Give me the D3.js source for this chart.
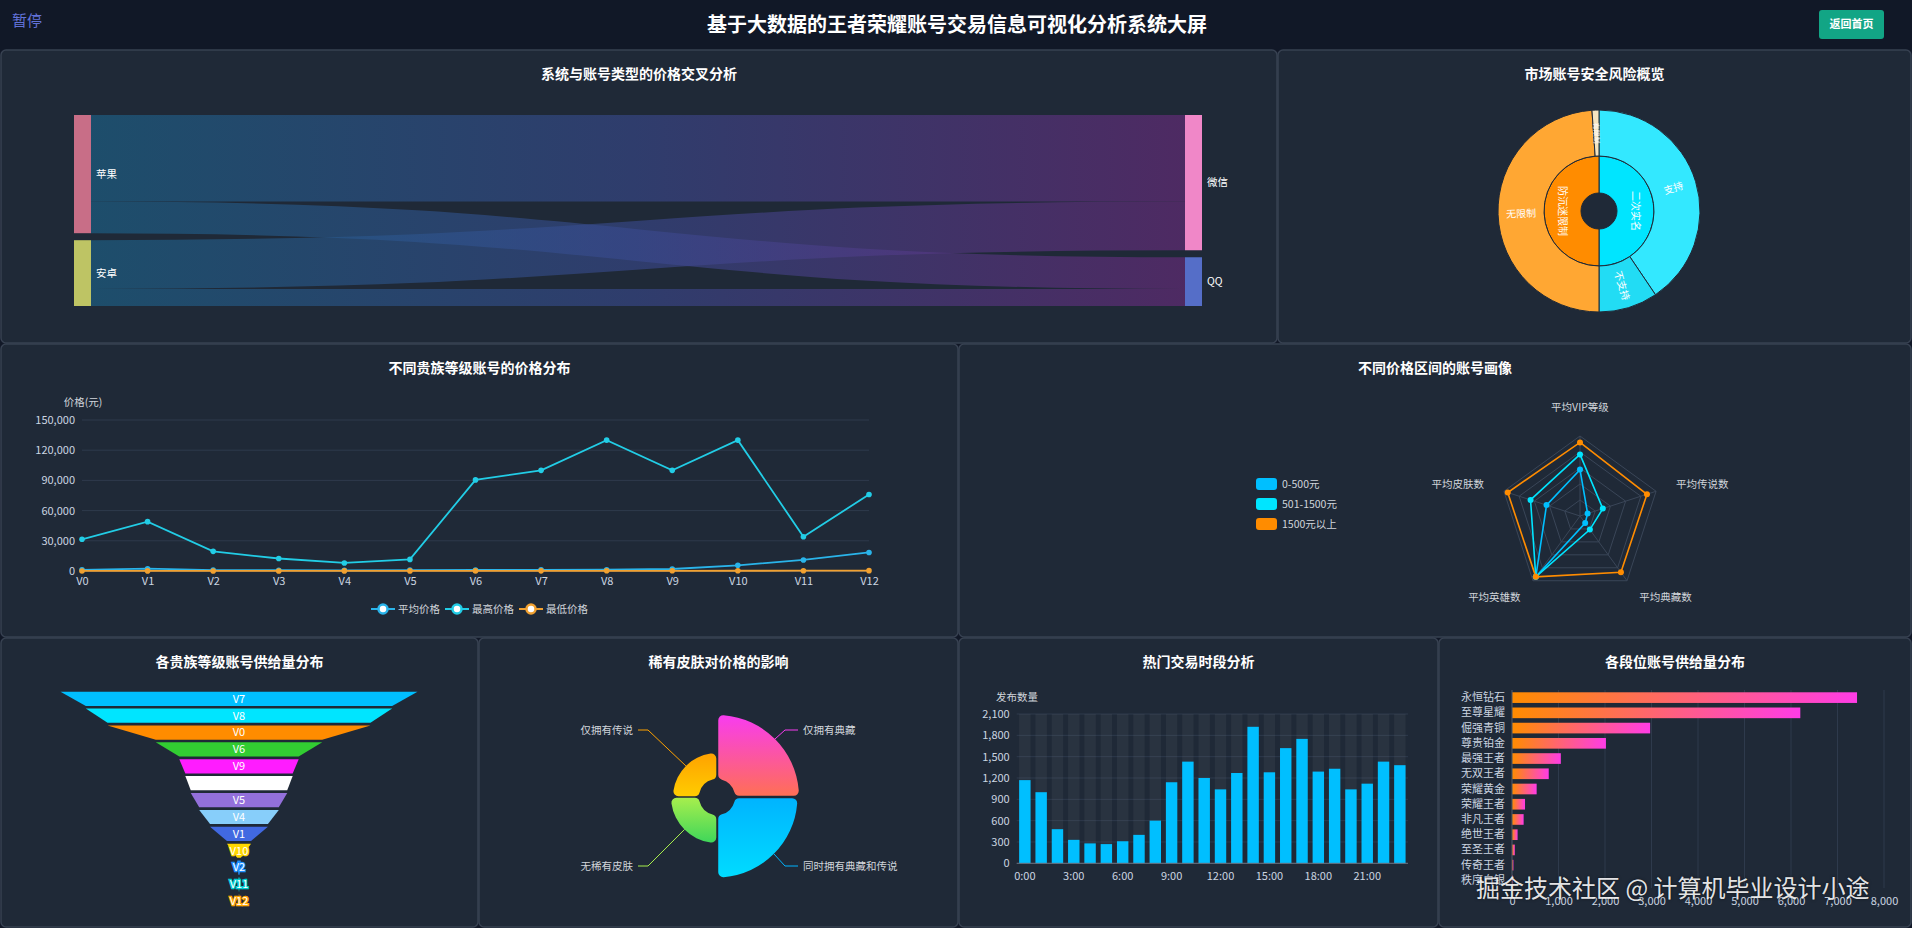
<!DOCTYPE html>
<meta charset="utf-8">
<title>基于大数据的王者荣耀账号交易信息可视化分析系统大屏</title>
<style>
body {
  margin: 0;
  background: #111827;
  overflow: hidden;
}
svg {
  display: block;
  font-family: "Noto Sans CJK SC", "Microsoft YaHei", sans-serif;
}
.ptitle {
  fill: #fff;
  font-size: 14px;
  font-weight: bold;
  text-anchor: middle;
}
.axis text {
  fill: #cbd5e1;
  font-size: 11px;
  font-family: "Noto Sans CJK SC", sans-serif;
}
.axis .domain { display: none; }
.lbl {
  fill: #d1d5db;
  font-size: 10.5px;
}
</style>
<body>
<svg id="screen" width="1912" height="928"></svg>
</body>
<script src="https://cdn.jsdelivr.net/npm/d3@7"></script>
<script>

// ---------- data ----------
var sankeyLeft = ["苹果", "安卓"];
var sankeyRight = ["微信", "QQ"];
var sankeyFlows = [
  {source: "苹果", target: "微信", value: 710},
  {source: "苹果", target: "QQ", value: 260},
  {source: "安卓", target: "微信", value: 400},
  {source: "安卓", target: "QQ", value: 140}
];

var riskInner = ["二次实名", "防沉迷限制"];
var riskOuter = [
  {parent: "二次实名", name: "支持", value: 1460},
  {parent: "二次实名", name: "不支持", value: 340},
  {parent: "防沉迷限制", name: "无限制", value: 1760},
  {parent: "防沉迷限制", name: "有限制", value: 40}
];

var vipLevels = ["V0", "V1", "V2", "V3", "V4", "V5", "V6", "V7", "V8", "V9", "V10", "V11", "V12"];
var avgPrice = [1200, 2300, 900, 800, 700, 900, 1000, 1100, 1300, 2000, 5600, 11000, 18400];
var maxPrice = [31500, 49000, 19500, 12400, 8000, 11500, 90500, 100000, 130000, 100000, 130000, 34000, 76000];
var minPrice = [50, 80, 60, 70, 90, 100, 120, 150, 200, 180, 250, 300, 350];

var radarIndicators = ["平均VIP等级", "平均传说数", "平均典藏数", "平均英雄数", "平均皮肤数"];
var radarGroups = ["0-500元", "501-1500元", "1500元以上"];
var radarLow = [58, 10, 11, 94, 44];
var radarMid = [77, 30, 21, 94, 65];
var radarHigh = [92, 88, 87, 94, 95];

var funnelLevels = ["V7", "V8", "V0", "V6", "V9", "V3", "V5", "V4", "V1", "V10", "V2", "V11", "V12"];
var funnelSupply = [1480, 1270, 1090, 690, 495, 445, 400, 330, 240, 100, 15, 5, 2];

var skinTypes = ["仅拥有典藏", "同时拥有典藏和传说", "无稀有皮肤", "仅拥有传说"];
var skinPrice = [2860, 2790, 1250, 1160];

var hours = ["0:00", "1:00", "2:00", "3:00", "4:00", "5:00", "6:00", "7:00", "8:00", "9:00", "10:00", "11:00",
             "12:00", "13:00", "14:00", "15:00", "16:00", "17:00", "18:00", "19:00", "20:00", "21:00", "22:00", "23:00"];
var hourCounts = [1170, 1000, 480, 330, 280, 270, 310, 400, 600, 1140, 1430, 1200,
                  1040, 1270, 1920, 1280, 1620, 1750, 1290, 1330, 1040, 1120, 1430, 1380];

var ranks = ["永恒钻石", "至尊星耀", "倔强青铜", "尊贵铂金", "最强王者", "无双王者", "荣耀黄金",
             "荣耀王者", "非凡王者", "绝世王者", "至圣王者", "传奇王者", "秩序白银"];
var rankSupply = [7420, 6200, 2970, 2020, 1050, 790, 530, 280, 250, 120, 60, 30, 15];

// ---------- styles ----------
var sankeyColors = {"苹果": "#c86e87", "安卓": "#bec464", "微信": "#f087c8", "QQ": "#556ec8"};
var riskInnerColors = ["#00e5ff", "#ff8c00"];
var riskOuterColors = ["#33e8ff", "#22dcf4", "#ffa733", "#f4e4c0"];
var radarColors = ["#00bfff", "#00e5ff", "#ff8c00"];
var funnelColors = ["#00bfff", "#00e5ff", "#ff8c00", "#32cd32", "#ff1cff", "#ffffff", "#9370db",
                    "#87cefa", "#4169e1", "#ffd700", "#1e90ff", "#00ced1", "#ffa500"];
var skinGrads = [["#f83cf0", "#ff6f55"], ["#00b4ff", "#00dcff"], ["#a7ee4d", "#3fd65a"], ["#ffa200", "#ffcc00"]];

var svg = d3.select("#screen");
var defs = svg.append("defs");
var fmt = d3.format(",");

// ---------- header ----------
svg.append("rect").attr("width", 1912).attr("height", 50).attr("fill", "#111827");
svg.append("text").attr("x", 12).attr("y", 21).attr("dy", "0.35em")
  .attr("fill", "#6272d9").style("font-size", "15px").text("暂停");
svg.append("text").attr("x", 957).attr("y", 25).attr("dy", "0.35em")
  .attr("text-anchor", "middle").attr("fill", "#fff")
  .style("font-size", "20px").style("font-weight", "bold")
  .text("基于大数据的王者荣耀账号交易信息可视化分析系统大屏");
svg.append("rect").attr("x", 1819).attr("y", 10).attr("width", 65).attr("height", 29)
  .attr("rx", 3).attr("fill", "#12a585");
svg.append("text").attr("x", 1851.5).attr("y", 24.5).attr("dy", "0.35em")
  .attr("text-anchor", "middle").attr("fill", "#fff")
  .style("font-size", "11px").style("font-weight", "bold").text("返回首页");

// ---------- panels ----------
function panel(x, y, w, h, title) {
  svg.append("rect").attr("x", x + 1).attr("y", y + 1).attr("width", w - 2).attr("height", h - 2)
    .attr("rx", 5).attr("fill", "#1f2937").attr("stroke", "#374151").attr("stroke-width", 1.5);
  svg.append("text").attr("class", "ptitle").attr("x", x + w / 2).attr("y", y + 25)
    .attr("dy", "0.35em").text(title);
}
panel(0, 49, 1278, 295, "系统与账号类型的价格交叉分析");
panel(1277, 49, 635, 295, "市场账号安全风险概览");
panel(0, 343, 959, 295, "不同贵族等级账号的价格分布");
panel(958, 343, 954, 295, "不同价格区间的账号画像");
panel(0, 637, 479, 291, "各贵族等级账号供给量分布");
panel(478, 637, 481, 291, "稀有皮肤对价格的影响");
panel(958, 637, 481, 291, "热门交易时段分析");
panel(1438, 637, 474, 291, "各段位账号供给量分布");

// ---------- sankey ----------
(function () {
  var top = 115, bottom = 306, pad = 7, xL = 74, xR = 1185, nw = 17;
  var nodes = {};
  sankeyLeft.concat(sankeyRight).forEach(function (n) { nodes[n] = {name: n, out: 0, inn: 0}; });
  sankeyFlows.forEach(function (f) {
    nodes[f.source].out += f.value;
    nodes[f.target].inn += f.value;
  });
  var totL = d3.sum(sankeyLeft, function (n) { return nodes[n].out; });
  var totR = d3.sum(sankeyRight, function (n) { return nodes[n].inn; });
  var ky = (bottom - top - pad) / Math.max(totL, totR);
  function stack(list, key, x) {
    var y = top;
    list.forEach(function (n) {
      var d = nodes[n];
      d.x0 = x; d.x1 = x + nw; d.y0 = y; d.y1 = y + d[key] * ky;
      d.sy = d.y0; d.ty = d.y0;
      y = d.y1 + pad;
    });
  }
  stack(sankeyLeft, "out", xL);
  stack(sankeyRight, "inn", xR);

  var grad = defs.append("linearGradient").attr("id", "sankeyGrad")
    .attr("gradientUnits", "userSpaceOnUse").attr("x1", xL + nw).attr("x2", xR).attr("y1", 0).attr("y2", 0);
  grad.append("stop").attr("offset", 0).attr("stop-color", "#1c668e");
  grad.append("stop").attr("offset", 0.5).attr("stop-color", "#3a4a90");
  grad.append("stop").attr("offset", 1).attr("stop-color", "#6d2b80");

  var link = d3.linkHorizontal();
  sankeyFlows.forEach(function (f) {
    var s = nodes[f.source], t = nodes[f.target], w = f.value * ky;
    var y0 = s.sy + w / 2, y1 = t.ty + w / 2;
    s.sy += w; t.ty += w;
    svg.append("path")
      .attr("d", link({source: [s.x1, y0], target: [t.x0, y1]}))
      .attr("fill", "none").attr("stroke", "url(#sankeyGrad)")
      .attr("stroke-opacity", 0.6).attr("stroke-width", w);
  });

  Object.keys(nodes).forEach(function (n) {
    var d = nodes[n];
    svg.append("rect").attr("x", d.x0).attr("y", d.y0).attr("width", nw).attr("height", d.y1 - d.y0)
      .attr("fill", sankeyColors[n]);
    svg.append("text").attr("x", d.x1 + 5).attr("y", (d.y0 + d.y1) / 2).attr("dy", "0.35em")
      .attr("fill", "#fff").style("font-size", "10.5px").text(n);
  });
})();

// ---------- sunburst ----------
(function () {
  var cx = 1599, cy = 211;
  var g = svg.append("g").attr("transform", "translate(" + cx + "," + cy + ")");
  var innerVals = riskInner.map(function (n) {
    return d3.sum(riskOuter.filter(function (o) { return o.parent === n; }), function (o) { return o.value; });
  });
  var pieIn = d3.pie().sort(null)(innerVals);
  var pieOut = d3.pie().sort(null).value(function (d) { return d.value; })(riskOuter);
  var arcIn = d3.arc().innerRadius(18).outerRadius(55);
  var arcOut = d3.arc().innerRadius(55).outerRadius(101);

  g.selectAll("path.in").data(pieIn).enter().append("path")
    .attr("d", arcIn).attr("fill", function (d, i) { return riskInnerColors[i]; })
    .attr("stroke", "#1f2937").attr("stroke-width", 1);
  g.selectAll("path.out").data(pieOut).enter().append("path")
    .attr("d", arcOut).attr("fill", function (d, i) { return riskOuterColors[i]; })
    .attr("stroke", "#1f2937").attr("stroke-width", 1);

  pieIn.forEach(function (d, i) {
    var c = arcIn.centroid(d), a = (d.startAngle + d.endAngle) / 2 * 180 / Math.PI;
    var rot = a > 180 ? a - 180 : a;
    g.append("text").attr("transform", "translate(" + c + ") rotate(" + rot + ")")
      .attr("text-anchor", "middle").attr("dy", "0.35em").attr("fill", "#fff")
      .style("font-size", "10px").text(riskInner[i]);
  });
  pieOut.forEach(function (d) {
    var c = arcOut.centroid(d), a = (d.startAngle + d.endAngle) / 2 * 180 / Math.PI;
    var rot = a < 180 ? a - 90 : a - 270;
    g.append("text").attr("transform", "translate(" + c + ") rotate(" + rot + ")")
      .attr("text-anchor", "middle").attr("dy", "0.35em").attr("fill", "#fff")
      .style("font-size", d.data.value < 100 ? "7px" : "10px").text(d.data.name);
  });
})();

// ---------- line chart ----------
(function () {
  var x = d3.scalePoint().domain(vipLevels).range([82, 869]);
  var y = d3.scaleLinear().domain([0, 150000]).range([571, 420]);
  var ticks = d3.range(0, 150001, 30000);
  svg.append("g").selectAll("line").data(ticks).enter().append("line")
    .attr("x1", 82).attr("x2", 869).attr("y1", y).attr("y2", y)
    .attr("stroke", "#2e3a4c").attr("stroke-width", 1);
  svg.append("line").attr("x1", 82).attr("x2", 869).attr("y1", 571).attr("y2", 571)
    .attr("stroke", "#6b7280");
  svg.append("g").attr("class", "axis").attr("transform", "translate(82,0)")
    .call(d3.axisLeft(y).tickValues(ticks).tickFormat(fmt).tickSize(0).tickPadding(7));
  svg.append("g").attr("class", "axis").attr("transform", "translate(0,571)")
    .call(d3.axisBottom(x).tickSize(0).tickPadding(6));
  svg.append("text").attr("class", "lbl").attr("x", 83).attr("y", 402).attr("dy", "0.35em")
    .attr("text-anchor", "middle").text("价格(元)");

  var series = [
    {name: "平均价格", values: avgPrice, color: "#2ab4ea"},
    {name: "最高价格", values: maxPrice, color: "#22cde6"},
    {name: "最低价格", values: minPrice, color: "#f0a030"}
  ];
  var line = d3.line().x(function (d, i) { return x(vipLevels[i]); }).y(function (d) { return y(d); });
  series.forEach(function (s) {
    svg.append("path").attr("d", line(s.values)).attr("fill", "none")
      .attr("stroke", s.color).attr("stroke-width", 1.8);
    svg.append("g").selectAll("circle").data(s.values).enter().append("circle")
      .attr("cx", function (d, i) { return x(vipLevels[i]); }).attr("cy", y)
      .attr("r", 2.8).attr("fill", s.color);
  });

  // legend
  series.forEach(function (s, i) {
    var lx = 383 + i * 74, ly = 609;
    svg.append("line").attr("x1", lx - 12).attr("x2", lx + 12).attr("y1", ly).attr("y2", ly)
      .attr("stroke", s.color).attr("stroke-width", 2);
    svg.append("circle").attr("cx", lx).attr("cy", ly).attr("r", 4.5)
      .attr("fill", "#fff").attr("stroke", s.color).attr("stroke-width", 2.5);
    svg.append("text").attr("class", "lbl").attr("x", lx + 15).attr("y", ly).attr("dy", "0.35em")
      .text(s.name);
  });
})();

// ---------- radar ----------
(function () {
  var cx = 1580, cy = 516, R = 80;
  var r = d3.scaleLinear().domain([0, 100]).range([0, R]);
  var n = radarIndicators.length;
  function pt(i, v) {
    var a = -Math.PI / 2 + i * 2 * Math.PI / n;
    return [cx + r(v) * Math.cos(a), cy + r(v) * Math.sin(a)];
  }
  [20, 40, 60, 80, 100].forEach(function (lv) {
    svg.append("polygon")
      .attr("points", radarIndicators.map(function (d, i) { return pt(i, lv).join(","); }).join(" "))
      .attr("fill", "none").attr("stroke", "#3a4658").attr("stroke-width", 1);
  });
  radarIndicators.forEach(function (name, i) {
    var p = pt(i, 100);
    svg.append("line").attr("x1", cx).attr("y1", cy).attr("x2", p[0]).attr("y2", p[1])
      .attr("stroke", "#3a4658");
    var a = -Math.PI / 2 + i * 2 * Math.PI / n;
    var c = Math.cos(a), s = Math.sin(a);
    var lx = cx + (R + 21) * c, ly = cy + (R + 21) * s;
    var anchor = Math.abs(c) < 0.1 ? "middle" : (c > 0 ? "start" : "end");
    if (s < -0.9) ly -= 8;
    svg.append("text").attr("class", "lbl").attr("x", lx).attr("y", ly).attr("dy", "0.35em")
      .attr("text-anchor", anchor).text(name);
  });
  [radarLow, radarMid, radarHigh].forEach(function (vals, k) {
    svg.append("polygon")
      .attr("points", vals.map(function (v, i) { return pt(i, v).join(","); }).join(" "))
      .attr("fill", "none").attr("stroke", radarColors[k]).attr("stroke-width", 1.6);
    vals.forEach(function (v, i) {
      var p = pt(i, v);
      svg.append("circle").attr("cx", p[0]).attr("cy", p[1]).attr("r", 3).attr("fill", radarColors[k]);
    });
  });
  radarGroups.forEach(function (name, k) {
    var ly = 484 + k * 20;
    svg.append("rect").attr("x", 1256).attr("y", ly - 6).attr("width", 21).attr("height", 12)
      .attr("rx", 3).attr("fill", radarColors[k]);
    svg.append("text").attr("class", "lbl").attr("x", 1282).attr("y", ly).attr("dy", "0.35em").text(name);
  });
})();

// ---------- funnel ----------
(function () {
  var cx = 239;
  var fw = d3.scaleLinear().domain([0, d3.max(funnelSupply)]).range([0, 357]);
  var fy = d3.scaleBand().domain(funnelLevels).range([691.7, 908.5]).paddingInner(0.16);
  funnelLevels.forEach(function (lv, i) {
    var y0 = fy(lv), y1 = y0 + fy.bandwidth();
    var wTop = fw(funnelSupply[i]);
    var wBot = i < funnelLevels.length - 1 ? fw(funnelSupply[i + 1]) : 0;
    svg.append("polygon")
      .attr("points", [[cx - wTop / 2, y0], [cx + wTop / 2, y0], [cx + wBot / 2, y1], [cx - wBot / 2, y1]].join(" "))
      .attr("fill", funnelColors[i]);
    svg.append("text").attr("x", cx).attr("y", (y0 + y1) / 2).attr("dy", "0.35em")
      .attr("text-anchor", "middle").attr("fill", "#fff")
      .attr("stroke", funnelColors[i]).attr("stroke-width", 2.5).attr("paint-order", "stroke")
      .style("font-size", "11px").text(lv);
  });
})();

// ---------- rose ----------
(function () {
  var cx = 717, cy = 797;
  var g = svg.append("g").attr("transform", "translate(" + cx + "," + cy + ")");
  var rr = d3.scaleLinear().domain([0, d3.max(skinPrice)]).range([18, 82]);
  var pie = d3.pie().sort(null).value(function () { return 1; });
  var arcs = pie(skinPrice);
  var arc = d3.arc().innerRadius(18).outerRadius(function (d) { return rr(d.data); })
    .cornerRadius(5).padAngle(0.03);
  arcs.forEach(function (d, i) {
    var gr = defs.append("linearGradient").attr("id", "skin" + i)
      .attr("x1", 0).attr("y1", 0).attr("x2", 0).attr("y2", 1);
    gr.append("stop").attr("offset", 0).attr("stop-color", skinGrads[i][0]);
    gr.append("stop").attr("offset", 1).attr("stop-color", skinGrads[i][1]);
    g.append("path").attr("d", arc(d)).attr("fill", "url(#skin" + i + ")");

    var a = (d.startAngle + d.endAngle) / 2;
    var ro = rr(d.data);
    var p0 = [Math.sin(a) * ro, -Math.cos(a) * ro];
    var right = Math.sin(a) > 0, down = Math.cos(a) < 0;
    var ey = down ? 69 : -67;
    var ex = right ? 68 : -69;
    var endx = right ? 81 : -79;
    g.append("polyline").attr("points", [p0, [ex, ey], [endx, ey]].join(" "))
      .attr("fill", "none").attr("stroke", skinGrads[i][0]).attr("stroke-width", 1);
    g.append("text").attr("class", "lbl").attr("x", right ? endx + 5 : endx - 5).attr("y", ey)
      .attr("dy", "0.35em").attr("text-anchor", right ? "start" : "end").text(skinTypes[i]);
  });
})();

// ---------- hourly bars ----------
(function () {
  var x = d3.scaleBand().domain(hours).range([1016.7, 1408]).paddingInner(0.3).paddingOuter(0.15);
  var y = d3.scaleLinear().domain([0, 2100]).range([863.3, 714]);
  var ticks = d3.range(0, 2101, 300);
  svg.append("g").selectAll("line").data(ticks).enter().append("line")
    .attr("x1", 1016.7).attr("x2", 1408).attr("y1", y).attr("y2", y)
    .attr("stroke", "#2e3a4c");
  svg.append("g").selectAll("rect").data(hours).enter().append("rect")
    .attr("x", function (d) { return x(d); }).attr("width", x.bandwidth())
    .attr("y", 714).attr("height", 863.3 - 714)
    .attr("fill", "rgba(180,180,180,0.07)");
  svg.append("g").selectAll("rect").data(hourCounts).enter().append("rect")
    .attr("x", function (d, i) { return x(hours[i]); }).attr("width", x.bandwidth())
    .attr("y", y).attr("height", function (d) { return 863.3 - y(d); })
    .attr("fill", "#00bfff");
  svg.append("line").attr("x1", 1016.7).attr("x2", 1408).attr("y1", 863.3).attr("y2", 863.3)
    .attr("stroke", "#6b7280");
  svg.append("g").attr("class", "axis").attr("transform", "translate(1016.7,0)")
    .call(d3.axisLeft(y).tickValues(ticks).tickFormat(fmt).tickSize(0).tickPadding(7));
  svg.append("g").attr("class", "axis").attr("transform", "translate(0,863.3)")
    .call(d3.axisBottom(x).tickValues(hours.filter(function (d, i) { return i % 3 === 0; }))
      .tickSize(0).tickPadding(9));
  svg.append("text").attr("class", "lbl").attr("x", 1017).attr("y", 697).attr("dy", "0.35em")
    .attr("text-anchor", "middle").text("发布数量");
})();

// ---------- rank bars ----------
(function () {
  var y = d3.scaleBand().domain(ranks).range([690, 888]).paddingInner(0.3).paddingOuter(0.15);
  var x = d3.scaleLinear().domain([0, 8000]).range([1512, 1884]);
  var ticks = d3.range(0, 8001, 1000);
  svg.append("g").selectAll("line").data(ticks).enter().append("line")
    .attr("x1", x).attr("x2", x).attr("y1", 690).attr("y2", 888)
    .attr("stroke", "#2e3a4c");
  var gr = defs.append("linearGradient").attr("id", "rankGrad");
  gr.append("stop").attr("offset", 0).attr("stop-color", "#ff8c00");
  gr.append("stop").attr("offset", 1).attr("stop-color", "#ff3ce6");
  svg.append("g").selectAll("rect").data(rankSupply).enter().append("rect")
    .attr("x", 1512).attr("y", function (d, i) { return y(ranks[i]); })
    .attr("width", function (d) { return x(d) - 1512; }).attr("height", y.bandwidth())
    .attr("fill", "url(#rankGrad)");
  svg.append("line").attr("x1", 1512).attr("x2", 1512).attr("y1", 690).attr("y2", 888)
    .attr("stroke", "#4b5563");
  svg.append("g").attr("class", "axis").attr("transform", "translate(1512,0)")
    .call(d3.axisLeft(y).tickSize(0).tickPadding(7));
  svg.append("g").attr("class", "axis").attr("transform", "translate(0,888)")
    .call(d3.axisBottom(x).tickValues(ticks).tickFormat(fmt).tickSize(0).tickPadding(9));
})();

// watermark
svg.append("text").attr("x", 1476).attr("y", 889).attr("dy", "0.35em")
  .attr("fill", "#fff").attr("fill-opacity", 0.9).style("font-size", "24px")
  .style("text-shadow", "0 0 3px rgba(0,0,0,0.6)")
  .text("掘金技术社区 @ 计算机毕业设计小途");
</script>
